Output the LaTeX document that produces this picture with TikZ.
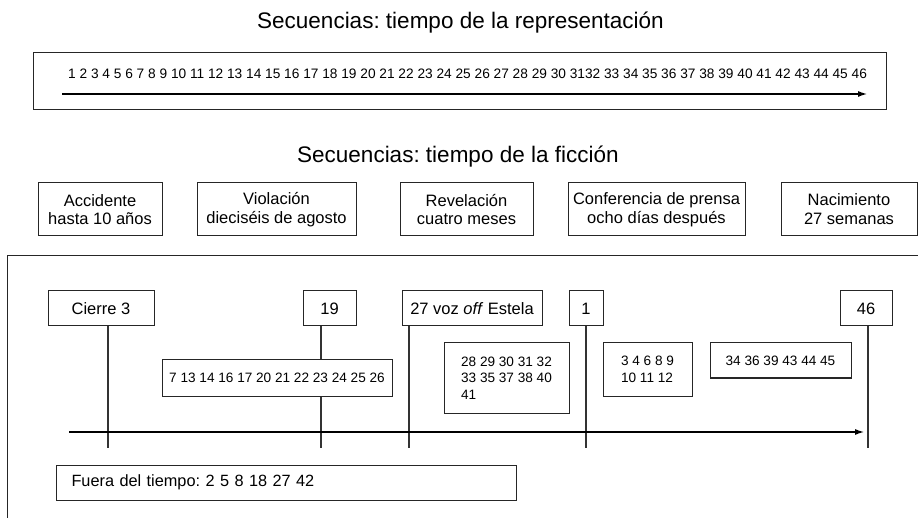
\documentclass[tikz,border=0pt]{standalone}
\usepackage{fontspec}
\setmainfont{Liberation Sans}
\usetikzlibrary{arrows.meta}
\frenchspacing

\begin{document}
\begin{tikzpicture}[x=1pt,y=-1pt,
    lab/.style={draw=black!85,line width=1pt,font=\fontsize{16.5}{18.5}\selectfont,align=center,minimum height=53,inner sep=0},
    tag/.style={draw=black!85,line width=1pt,fill=white,font=\fontsize{16.5}{18.5}\selectfont,minimum height=35,inner sep=0},
    grp/.style={draw=black!85,line width=1pt,fill=white,font=\fontsize{13.6}{16.5}\selectfont,align=left,inner sep=0},
    tick/.style={draw=black!80,line width=1.2pt},
    axis/.style={draw=black,line width=2pt,-{Latex[length=10pt,width=6pt]}}]
            \clip (0,0) rectangle (918,518);

            \begin{scope}[every node/.style={font=\fontsize{22.5}{27}\selectfont,anchor=base west,inner sep=0}]
                \node (tit1) at (257,29) {Secuencias: tiempo de la representación};
                \node (tit2) at (297,163) {Secuencias: tiempo de la ficción};
            \end{scope}

            \node[draw=black!85,line width=1pt,minimum width=853,minimum height=57,inner sep=0] (rep) at (459.5,81.5) {};
            \node[anchor=base west,inner sep=0,font=\fontsize{13.7}{16}\selectfont] (numrep) at (68,78.3)
                {1 2 3 4 5 6 7 8 9 10 11 12 13 14 15 16 17 18 19 20 21 22 23 24 25 26 27 28 29 30 3132 33 34 35 36 37 38 39 40 41 42 43 44 45 46};
            \coordinate (r0) at (62,94);
            \coordinate (r1) at (868,94);

            \node[lab,minimum width=124] (acc) at (100,209.5) {Accidente\\hasta 10 años};
            \node[lab,minimum width=159] (viol) at (276.5,209.5) {Violación\\dieciséis de agosto};
            \node[lab,minimum width=133] (rev) at (466.5,209.5) {Revelación\\cuatro meses};
            \node[lab,minimum width=177] (conf) at (656.5,209.5) {Conferencia de prensa\\ocho días después};
            \node[lab,minimum width=136] (nac) at (849,209) {Nacimiento\\27 semanas};

            \draw[draw=black!85,line width=1pt] (930,256) -- (7,256) -- (7,530);

            \node[tag,minimum width=106] (cierre) at (101,308.5) {Cierre 3};
            \node[tag,minimum width=53] (n19) at (329.5,308.5) {19};
            \node[tag,minimum width=140] (n27) at (472,308.5) {27 voz \textit{off} Estela};
            \node[tag,minimum width=34] (n1) at (586,308.5) {1};
            \node[tag,minimum width=52] (n46) at (866,308.5) {46};

            \node[grp,minimum width=230,minimum height=36] (s7) at (277,378) {7 13 14 16 17 20 21 22 23 24 25 26};
            \node[grp,minimum width=125,minimum height=70] (s28) at (506.5,378) {28 29 30 31 32\\33 35 37 38 40\\41};
            \node[grp,minimum width=89,minimum height=53] (s3) at (647.5,369.5) {3 4 6 8 9\\10 11 12};
            \node[grp,minimum width=141,minimum height=35] (s34) at (780.5,360.5) {34 36 39 43 44 45};

            \node[draw=black!85,line width=1pt,anchor=west,text width=430,inner xsep=15,inner ysep=0,minimum height=35,align=left,
                  font=\fontsize{16.3}{18}\selectfont] (fuera) at (56,482.5) {Fuera del tiempo: 2 5 8 18 27 42};

            \coordinate (tc) at (108,448);
            \coordinate (t19) at (321,448);
            \coordinate (t27) at (409,448);
            \coordinate (t1) at (586,448);
            \coordinate (t46) at (868,448);
            \coordinate (f0) at (69,432);
            \coordinate (f1) at (865,432);

            \draw[axis] (r0) -- (r1);
            \draw[tick] (tc |- cierre.south) -- (tc);
            \draw[tick] (t19 |- n19.south) -- (t19 |- s7.north);
            \draw[tick] (t19 |- s7.south) -- (t19);
            \draw[tick] (t27 |- n27.south) -- (t27);
            \draw[tick] (t1 |- n1.south) -- (t1);
            \draw[tick] (t46 |- n46.south) -- (t46);
            \draw[axis] (f0) -- (f1);
\end{tikzpicture}
\end{document}
